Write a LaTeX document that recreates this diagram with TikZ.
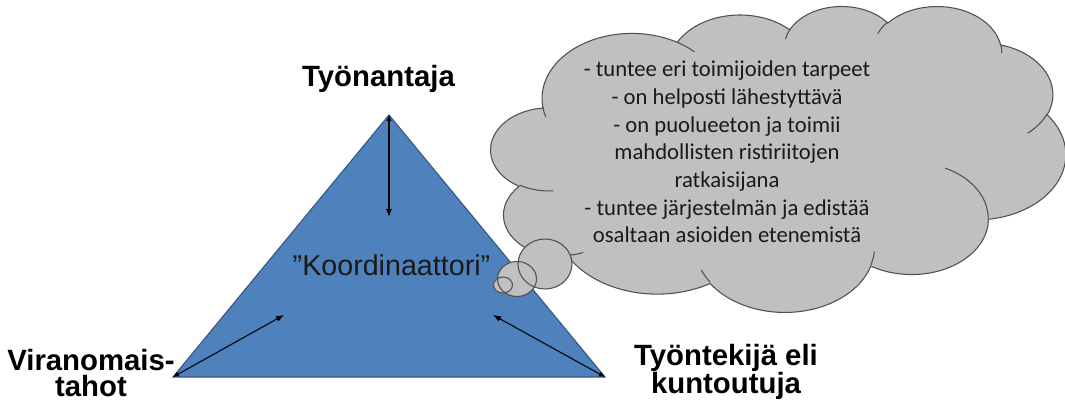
\documentclass[tikz,border=0pt]{standalone}
\usepackage{fontspec}
\setmainfont{Liberation Sans}
\newfontfamily\cloudfont{Carlito}
\usetikzlibrary{arrows.meta}
\definecolor{triblue}{HTML}{4F81BD}
\definecolor{triedge}{HTML}{34557F}
\definecolor{cloudgray}{HTML}{C0C0C0}
\definecolor{cloudedge}{HTML}{505050}
\definecolor{inktext}{HTML}{1A1A1A}

\begin{document}
\begin{tikzpicture}[x=0.75pt,y=-0.75pt,
  vertexlabel/.style={font=\fontsize{22}{20.2}\selectfont\bfseries, align=center, inner sep=0pt, text=black},
  centrelabel/.style={font=\fontsize{21.5}{25}\selectfont, inner sep=0pt, text=inktext},
  cloudtext/.style={font=\cloudfont\fontsize{17}{20.8}\selectfont, align=center, inner sep=0pt, text=inktext},
  flow/.style={line width=0.8pt, black, {Latex[length=4.5pt,width=4pt]}-{Latex[length=6pt,width=4.5pt]}},
  triface/.style={fill=triblue, draw=triedge, line width=0.8pt, line join=miter},
  cloudface/.style={fill=cloudgray, draw=cloudedge, line width=0.8pt},
  cloudline/.style={draw=cloudedge, line width=0.8pt},
  bubblefill/.style={fill=cloudgray},
  bubbleline/.style={draw=cloudedge, line width=0.8pt}]

\useasboundingbox[fill=white] (0,0) rectangle (1065,402);

% triangle corners and arrow ends
\coordinate (apex) at (389,115);
\coordinate (bl) at (173,377);
\coordinate (br) at (605,377);
\coordinate (apexend) at (389,217);
\coordinate (blend) at (284,315);
\coordinate (brend) at (493,315);

\path[triface] (apex) -- (bl) -- (br) -- cycle;

\draw[flow] (apex) -- (apexend);
\draw[flow] (bl) -- (blend);
\draw[flow] (br) -- (brend);

\node[centrelabel, anchor=base] (coord) at (391.5,276) {”Koordinaattori”};

\node[vertexlabel, anchor=base] (employer) at (378.5,87) {Työnantaja};
\node[vertexlabel] (authorities) at (91,373) {Viranomais-\\tahot};
\node[vertexlabel] (employee) at (726,372) {Työntekijä eli\\kuntoutuja};

% thought cloud, outline built from elliptic arcs (units of 1/1000 of the box)
\begin{scope}[shift={(491,5.5)}, x=9.975pt, y=-5.31pt]
  \path[cloudface] (3.900,14.370)
    arc[start angle=-187.746, end angle=-59.63, x radius=6.753, y radius=9.190]
    arc[start angle=-152.04, end angle=-45.46, x radius=5.333, y radius=7.267]
    arc[start angle=-153.49, end angle=-37.33, x radius=4.365, y radius=5.945]
    arc[start angle=-139.72, end angle=-10.21, x radius=4.857, y radius=6.595]
    arc[start angle=-74.77, end angle=23.21, x radius=5.333, y radius=7.273]
    arc[start angle=-37.52, end angle=81.86, x radius=6.775, y radius=9.220]
    arc[start angle=0.46, end angle=121.97, x radius=5.785, y radius=7.867]
    arc[start angle=16.84, end angle=146.24, x radius=6.752, y radius=9.215]
    arc[start angle=58.98, end angle=150.20, x radius=7.720, y radius=10.543]
    arc[start angle=83.31, end angle=223.10, x radius=4.360, y radius=5.918]
    arc[start angle=120.36, end angle=264.11, x radius=4.345, y radius=5.945]
    -- cycle;
  % inner puff edges
  \path[cloudline]
    (4.693,26.177) arc[start angle=85.55, end angle=120.36, x radius=4.345, y radius=5.945]
    (6.928,34.899) arc[start angle=68.24, end angle=83.31, x radius=4.360, y radius=5.918]
    (16.478,39.090) arc[start angle=146.24, end angle=158.47, x radius=6.752, y radius=9.215]
    (28.827,34.751) arc[start angle=4.74, end angle=16.84, x radius=6.752, y radius=9.215]
    (34.129,22.954) arc[start angle=-64.03, end angle=0.46, x radius=5.785, y radius=7.867]
    (41.798,15.354) arc[start angle=23.21, end angle=49.64, x radius=5.333, y radius=7.273]
    (38.324,5.426) arc[start angle=-10.21, end angle=0.82, x radius=4.857, y radius=6.595]
    (29.078,3.952) arc[start angle=-156.30, end angle=-139.72, x radius=4.857, y radius=6.595]
    (22.141,4.720) arc[start angle=-167.73, end angle=-153.49, x radius=4.365, y radius=5.945]
    (14.000,5.192) arc[start angle=-59.63, end angle=-45.74, x radius=6.753, y radius=9.190]
    (4.127,15.789) arc[start angle=163.20, end angle=172.25, x radius=6.753, y radius=9.190];
\end{scope}

% thought bubbles leading to the cloud
\path[bubblefill] (545,264) ellipse[x radius=27, y radius=25];
\path[bubblefill] (517,279) ellipse[x radius=19.5, y radius=17.5];
\path[bubblefill] (503,285) ellipse[x radius=9.5, y radius=8];
\path[bubbleline] (545,264) ellipse[x radius=27, y radius=25];
\path[bubbleline] (517,279) ellipse[x radius=19.5, y radius=17.5];
\path[bubbleline] (503,285) ellipse[x radius=9.5, y radius=8];

\node[cloudtext] (traits) at (727,152) {- tuntee eri toimijoiden tarpeet\\
- on helposti lähestyttävä\\
- on puolueeton ja toimii\\
mahdollisten ristiriitojen\\
ratkaisijana\\
- tuntee järjestelmän ja edistää\\
osaltaan asioiden etenemistä};

\end{tikzpicture}
\end{document}
